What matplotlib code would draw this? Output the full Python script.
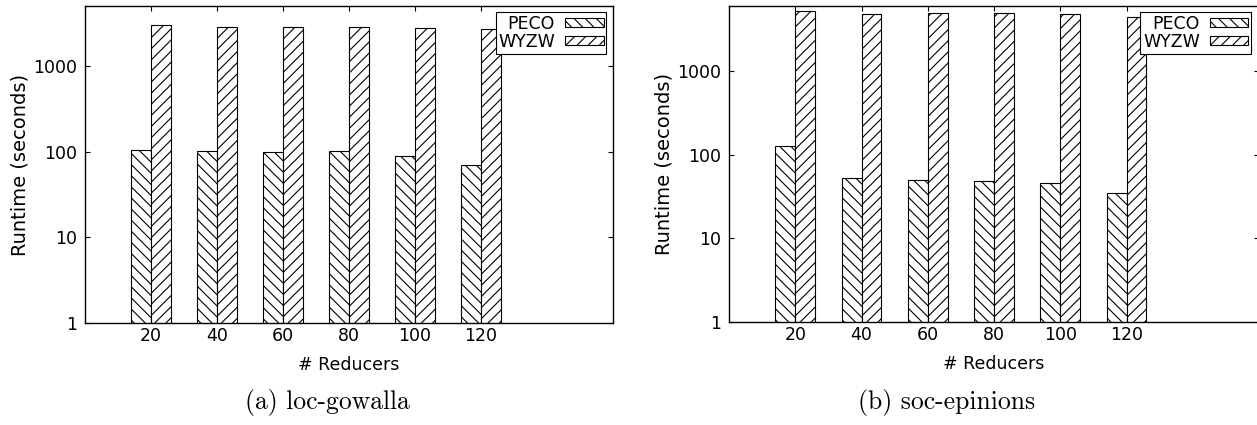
import numpy as np
import matplotlib
matplotlib.use("Agg")
import matplotlib.pyplot as plt
from matplotlib.ticker import NullLocator
from matplotlib.patches import Rectangle
from matplotlib.legend_handler import HandlerPatch

plt.rcParams['font.family'] = ['DejaVu Sans']
plt.rcParams['hatch.linewidth'] = 0.8
plt.rcParams['hatch.color'] = 'black'

reducers = [20, 40, 60, 80, 100, 120]

# loc-gowalla runtimes (seconds)
gowalla_peco = [105, 102, 99, 102, 90, 70]
gowalla_wyzw = [3030, 2870, 2870, 2820, 2800, 2690]

# soc-epinions runtimes (seconds)
epinions_peco = [128, 52, 50, 49, 46, 35]
epinions_wyzw = [5300, 4750, 4960, 4960, 4750, 4450]

W, H = 1257, 425
FS = 12.5
fig = plt.figure(figsize=(W / 100, H / 100), dpi=100)


def key_box(legend, orig_handle, xdescent, ydescent, width, height, fontsize):
    # hatch sample a bit shorter than the handle slot, leaving a right margin
    return Rectangle((-xdescent, -ydescent), width - 9, height)


def panel(rect, peco, wyzw, ymax, caption, cap_x, leg_anchor):
    ax = fig.add_axes([rect[0] / W, 1 - rect[3] / H, (rect[2] - rect[0]) / W,
                       (rect[3] - rect[1]) / H])
    x = np.array(reducers)
    bw = 6
    b1 = ax.bar(x - bw / 2, peco, bw, color='white', edgecolor='black',
                linewidth=0.8, hatch='\\\\\\', label='PECO')
    b2 = ax.bar(x + bw / 2, wyzw, bw, color='white', edgecolor='black',
                linewidth=0.8, hatch='///', label='WYZW')
    ax.set_yscale('log')
    ax.set_ylim(1, ymax)
    ax.set_xlim(0, 160)
    ax.set_yticks([1, 10, 100, 1000])
    ax.set_yticklabels(['1', '10', '100', '1000'])
    ax.yaxis.set_minor_locator(NullLocator())
    ax.set_xticks(reducers)
    ax.set_xticklabels([str(r) for r in reducers])
    ax.tick_params(direction='in', length=3.6, width=0.8, labelsize=FS,
                   top=True, right=True)
    ax.tick_params(axis='x', pad=3)
    ax.tick_params(axis='y', pad=6)
    for s in ax.spines.values():
        s.set_linewidth(1.0)
    ax.set_xlabel('# Reducers', fontsize=FS, labelpad=8)
    ax.set_ylabel('Runtime (seconds)', fontsize=14, labelpad=2)
    leg = ax.legend(handles=[b1, b2], loc='upper right', bbox_to_anchor=leg_anchor,
                    borderaxespad=0, markerfirst=False, fancybox=False,
                    framealpha=1, edgecolor='black', fontsize=FS,
                    handlelength=2.2, handleheight=0.4, handletextpad=0.6,
                    labelspacing=0.0, borderpad=0.15,
                    handler_map={Rectangle: HandlerPatch(patch_func=key_box)})
    leg.get_frame().set_linewidth(0.8)
    fig.text(cap_x / W, 1 - 403 / H, caption, ha='center', va='center',
             family='cmr10', fontsize=18.5)
    return ax


panel((85, 6, 613, 323), gowalla_peco, gowalla_wyzw, 5000,
      '(a) loc-gowalla', 327, (0.987, 0.98))
panel((729, 6, 1259, 322), epinions_peco, epinions_wyzw, 6000,
      '(b) soc-epinions', 947, (0.985, 0.98))

fig.savefig('out.png', dpi=100)
